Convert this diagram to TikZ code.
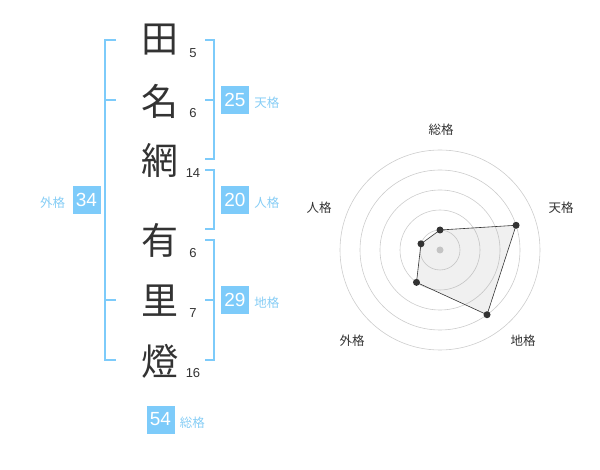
\documentclass[tikz,border=0pt]{standalone}
\usepackage{fontspec}
\setmainfont{Liberation Sans}
\newfontfamily\jpfont{Noto Sans CJK JP}
\usetikzlibrary{positioning}

\definecolor{kakublue}{HTML}{7DCBFA}
\definecolor{kakutext}{HTML}{86CDF5}
\definecolor{ink}{HTML}{333333}

\begin{document}
\begin{tikzpicture}[x=1pt,y=-1pt]
    \tikzset{kanji/.style   = {font=\jpfont\fontsize{37}{37}\selectfont,
        text = ink,
        inner sep = 0pt
        },
      strokes/.style  = {font=\fontsize{13}{13}\selectfont, text=ink, inner sep=0pt},
      kakubox/.style  = {fill=kakublue, text=white, minimum size=28pt, inner sep=0pt,
        font=\fontsize{19}{19}\selectfont},
      kakuname/.style = {font=\jpfont\fontsize{12.5}{12.5}\selectfont, text=kakutext, inner sep=0pt},
      bracket/.style  = {draw=kakublue, line width=1.6pt},
      ring/.style     = {draw=black!20, line width=0.6pt},
      vertex/.style   = {circle, fill=ink, inner sep=0pt, minimum size=7pt},
      axisname/.style = {font=\jpfont\fontsize{12.5}{12.5}\selectfont, text=ink, inner sep=0pt}
      }
    \useasboundingbox (0,0) rectangle (600,470);

    \def\Kx{160};
    \def\Sx{193};
    \def\Bx{214};

    % Draw the name and the strokes.
    \node[kanji] (k1) at (\Kx,40)  {田};
    \node[kanji] (k2) at (\Kx,101) {名};
    \node[kanji] (k3) at (\Kx,160) {網};
    \node[kanji] (k4) at (\Kx,240) {有};
    \node[kanji] (k5) at (\Kx,301) {里};
    \node[kanji] (k6) at (\Kx,361) {燈};

    \node[strokes] (s1) at (\Sx,53)  {5};
    \node[strokes] (s2) at (\Sx,113) {6};
    \node[strokes] (s3) at (\Sx,173) {14};
    \node[strokes] (s4) at (\Sx,253) {6};
    \node[strokes] (s5) at (\Sx,313) {7};
    \node[strokes] (s6) at (\Sx,373) {16};

    % Draw the brackets.
    \draw[bracket] (116,40) -- (105,40) -- (105,360) -- (116,360);
    \draw[bracket] (105,100) -- (116,100);
    \draw[bracket] (105,300) -- (116,300);

    \draw[bracket] (205,40) -- (\Bx,40) -- (\Bx,159) -- (205,159);
    \draw[bracket] (205,100) -- (\Bx,100);
    \draw[bracket] (205,170) -- (\Bx,170) -- (\Bx,229) -- (205,229);
    \draw[bracket] (205,240) -- (\Bx,240) -- (\Bx,360) -- (205,360);
    \draw[bracket] (205,300) -- (\Bx,300);

    % Draw the boxes.
    \node[kakubox] (ten) at (235,100) {25};
    \node[kakuname, right=5pt of ten, yshift=-3pt] (tenname) {天格};
    \node[kakubox] (jin) at (235,200) {20};
    \node[kakuname, right=5pt of jin, yshift=-3pt] (jinname) {人格};
    \node[kakubox] (chi) at (235,300) {29};
    \node[kakuname, right=5pt of chi, yshift=-3pt] (chiname) {地格};
    \node[kakubox] (gai) at (86.5,200) {34};
    \node[kakuname, left=7pt of gai, yshift=-3pt] (gainame) {外格};
    \node[kakubox] (sou) at (160.5,419.5) {54};
    \node[kakuname, right=5pt of sou, yshift=-3pt] (souname) {総格};

    % Draw the chart.
    \coordinate (c) at (440,250);
    \foreach \r in {20,40,60,80,100}
      \draw[ring] (c) circle[radius=\r pt];
    \node[circle, fill=black!20, inner sep=0pt, minimum size=7pt] (mid) at (c) {};

    \coordinate (pSou) at ([shift={(90:20pt)}]c);
    \coordinate (pTen) at ([shift={(18:80pt)}]c);
    \coordinate (pChi) at ([shift={(-54:80pt)}]c);
    \coordinate (pGai) at ([shift={(-126:40pt)}]c);
    \coordinate (pJin) at ([shift={(162:20pt)}]c);
    \filldraw[fill=black!40, fill opacity=0.15, draw=ink, line width=0.6pt]
      (pSou) -- (pTen) -- (pChi) -- (pGai) -- (pJin) -- cycle;
    \foreach \p in {pSou,pTen,pChi,pGai,pJin}
      \node[vertex] (v\p) at (\p) {};

    \node[axisname] (aSou) at (441,130) {総格};
    \node[axisname] (aTen) at (561,208) {天格};
    \node[axisname] (aChi) at (523,341) {地格};
    \node[axisname] (aGai) at (352,341) {外格};
    \node[axisname] (aJin) at (319,208) {人格};
  \end{tikzpicture}
\end{document}
